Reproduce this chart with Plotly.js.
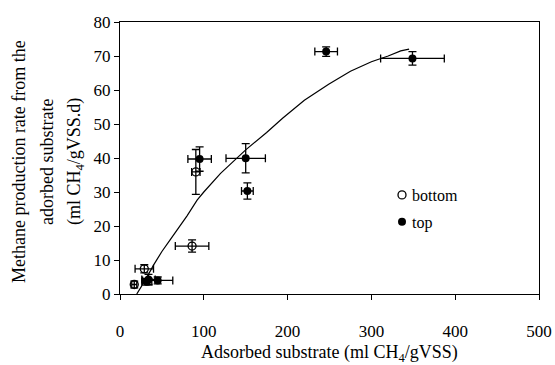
<!DOCTYPE html>
<html>
<head>
<meta charset="utf-8">
<script src="https://cdn.plot.ly/plotly-3.0.1.min.js"></script>
<style>body{margin:0;background:#fff}#chart{width:555px;height:365px}</style>
</head>
<body>
<div id="chart"></div>
<script>
// Bottom samples
const bottomX    = [17, 29, 86, 90.5];
const bottomY    = [2.8, 7.4, 14.1, 35.9];
const bottomXErr = [3, 11, 20, 5];
const bottomYErr = [1, 1.2, 1.8, 6.6];

// Top samples
const topX    = [32, 34, 45, 95, 150, 152, 246, 349];
const topY    = [3.6, 4.3, 4.0, 39.7, 39.9, 30.3, 71.3, 69.3];
const topXErr = [6, 8, 18, 14, 23.5, 7, 13.5, 38];
const topYErr = [1, 1.5, 1, 3.6, 4.3, 2.4, 1.4, 2];

// Fitted curve
const fitX = [20, 30, 40, 50, 60, 70, 80, 92, 100, 120, 150, 175, 194, 220, 249, 275, 300, 320, 335, 345];
const fitY = [0, 4, 8.5, 12.5, 16, 19.5, 23, 27.6, 30, 35.5, 42.4, 47.5, 51.7, 57, 61.7, 65.5, 68.3, 70, 71.5, 72];

const xTicks = [0, 100, 200, 300, 400, 500];
const yTicks = [0, 10, 20, 30, 40, 50, 60, 70, 80];

const FONT = '"Liberation Serif", "DejaVu Serif", serif';
const errStyle = {type: 'data', visible: true, color: '#000', thickness: 1.3, width: 4};

const traces = [
  {x: fitX, y: fitY, mode: 'lines', line: {color: '#000', width: 1.2}, showlegend: false, hoverinfo: 'skip'},
  {x: bottomX, y: bottomY, mode: 'markers', name: 'bottom', legendgroup: 'b',
   marker: {symbol: 'circle-open', size: 8, color: '#000', line: {width: 1.3}},
   error_x: Object.assign({array: bottomXErr}, errStyle),
   error_y: Object.assign({array: bottomYErr}, errStyle)},
  {x: topX, y: topY, mode: 'markers', name: 'top', legendgroup: 't',
   marker: {symbol: 'circle', size: 8, color: '#000'},
   error_x: Object.assign({array: topXErr}, errStyle),
   error_y: Object.assign({array: topYErr}, errStyle)}
];

const yTitleLines = ['Methane production rate from the', 'adorbed substrate', '(ml CH<sub>4</sub>/gVSS.d)'];
const yTitlePx = [19, 47, 75];
const plotL = 120, plotR = 539, plotT = 22, plotB = 294;

const annotations = yTitleLines.map((t, i) => ({
  text: t, xref: 'paper', yref: 'paper',
  x: (yTitlePx[i] - plotL) / (plotR - plotL), y: 0.485,
  xanchor: 'center', yanchor: 'middle', textangle: -90, showarrow: false,
  font: {family: FONT, size: 18, color: '#000'}
}));
annotations.push({
  text: 'Adsorbed substrate (ml CH<sub>4</sub>/gVSS)', xref: 'paper', yref: 'paper',
  x: 0.5, y: (plotB - 353) / (plotB - plotT), xanchor: 'center', yanchor: 'middle', showarrow: false,
  font: {family: FONT, size: 18, color: '#000'}
});

const layout = {
  width: 555, height: 365,
  margin: {l: plotL, r: 555 - plotR, t: plotT, b: 365 - plotB},
  paper_bgcolor: '#fff', plot_bgcolor: '#fff',
  font: {family: FONT, color: '#000'},
  xaxis: {
    range: [0, 500], tickvals: xTicks, ticktext: xTicks.map(String),
    showgrid: false, zeroline: false, showline: true, mirror: true,
    linecolor: '#000', linewidth: 1.2, ticks: 'outside', ticklen: 5, tickcolor: '#000',
    tickfont: {family: FONT, size: 17, color: '#000'}, ticklabelstandoff: 16
  },
  yaxis: {
    range: [0, 80], tickvals: yTicks, ticktext: yTicks.map(String),
    showgrid: false, zeroline: false, showline: true, mirror: true,
    linecolor: '#000', linewidth: 1.2, ticks: 'outside', ticklen: 5, tickcolor: '#000',
    tickfont: {family: FONT, size: 17, color: '#000'}
  },
  showlegend: true,
  legend: {x: (382 - plotL) / (plotR - plotL), y: (plotB - 178) / (plotB - plotT), xanchor: 'left', yanchor: 'top',
    bgcolor: 'rgba(0,0,0,0)', borderwidth: 0, font: {family: FONT, size: 16, color: '#000'},
    traceorder: 'grouped', tracegroupgap: 3},
  annotations: annotations
};

Plotly.newPlot('chart', traces, layout, {displayModeBar: false, staticPlot: true}).then(() => {
  document.querySelectorAll('.legendtext').forEach(t => t.setAttribute('x', 30));
});
</script>
</body>
</html>
